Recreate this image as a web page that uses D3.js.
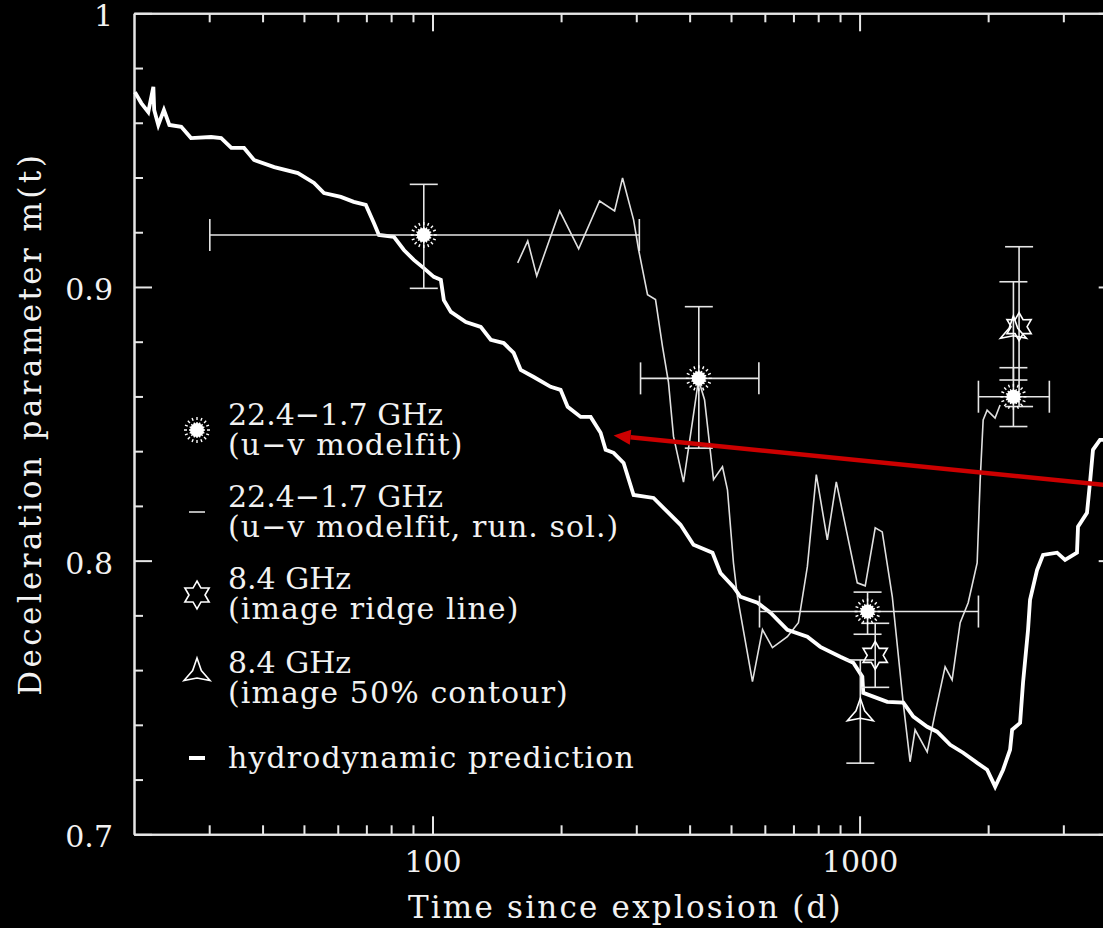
<!DOCTYPE html>
<html>
<head>
<meta charset="utf-8">
<script src="https://cdn.jsdelivr.net/npm/d3@7"></script>
<style>
body { margin: 0; background: #000; }
svg { display: block; }
text { font-family: "DejaVu Serif", serif; fill: #f2f2f2; }
</style>
</head>
<body>
<div id="chart"></div>
<script>
// hydrodynamic prediction (thick line)
var hydroT = [20.1, 20.8, 21.6, 22.2, 22.3, 22.8, 23.5, 24.2, 25.8, 27.2, 30.3, 32.0, 33.8, 36.2, 38.2, 42.6, 48.4, 52.8, 55.7, 61.0,
    65.4, 69.8, 72.9, 74.9, 81.2, 85.7, 90.4, 95.4, 100.7, 104.6, 106.3, 110.4, 119.7, 129.7, 136.9, 146.8, 154.9, 160.9, 172.6, 189.1,
    199.5, 207.2, 222.3, 234.6, 247.5, 254.3, 265.5, 280.2, 295.7, 329.3, 355.1, 380.8, 408.4, 452.5, 472.3, 506.6, 526.0, 576.6, 618.4, 677.5,
    754.6, 809.2, 901.3, 966.7, 1015, 1020, 1077, 1161, 1266, 1336, 1440, 1519, 1630, 1748, 1885, 1989, 2077, 2168, 2251, 2276,
    2376, 2414, 2480, 2507, 2604, 2689, 2900, 3028, 3229, 3247, 3408, 3463, 3520, 3655, 3900];
var hydroM = [0.9712, 0.9672, 0.9639, 0.9731, 0.9647, 0.9592, 0.9647, 0.9592, 0.9585, 0.9544, 0.9548, 0.9544, 0.9508, 0.9508, 0.9464, 0.9438, 0.9416, 0.9380, 0.9343, 0.9329,
    0.9311, 0.9300, 0.9234, 0.9190, 0.9183, 0.9135, 0.9099, 0.9069, 0.9037, 0.9026, 0.8952, 0.8909, 0.8872, 0.8854, 0.8807, 0.8795, 0.8759, 0.8697, 0.8671, 0.8635,
    0.8624, 0.8562, 0.8525, 0.8525, 0.8467, 0.8405, 0.8394, 0.8357, 0.8240, 0.8229, 0.8178, 0.8131, 0.8058, 0.8029, 0.7955, 0.7904, 0.7868, 0.7846, 0.7810, 0.7747,
    0.7722, 0.7685, 0.7649, 0.7627, 0.7576, 0.7517, 0.7503, 0.7484, 0.7481, 0.7430, 0.7393, 0.7375, 0.7327, 0.7298, 0.7261, 0.7236, 0.7174, 0.7236, 0.7309, 0.7382,
    0.7407, 0.7554, 0.7747, 0.7857, 0.7966, 0.8021, 0.8029, 0.8003, 0.8029, 0.8124, 0.8175, 0.8284, 0.8405, 0.8441, 0.8441];

// 22.4-1.7 GHz running solution (thin line)
var runT = [158.3, 167.1, 175.4, 198.5, 219.9, 246.1, 266.9, 278.6, 295.7, 303.8, 318.8, 332.8, 345.6, 356.9, 366.7, 387.0, 406.8, 419.6, 433.5, 455.0,
    477.5, 490.5, 506.6, 517.6, 561.3, 592.4, 625.1, 677.5, 719.0, 754.6, 791.9, 840.3, 882.0, 987.7, 1031, 1088, 1130, 1193, 1265, 1313,
    1349, 1440, 1503, 1586, 1647, 1720, 1796, 1885, 1916, 1947, 1989, 2076, 2133];
var runM = [0.9088, 0.9168, 0.9040, 0.9278, 0.9139, 0.9314, 0.9278, 0.9398, 0.9245, 0.9136, 0.8972, 0.8954, 0.8782, 0.8651, 0.8454, 0.8287, 0.8515, 0.8661, 0.8588, 0.8296,
    0.8343, 0.8259, 0.7992, 0.7868, 0.7558, 0.7748, 0.7682, 0.7722, 0.7773, 0.7978, 0.8314, 0.8076, 0.8288, 0.7919, 0.7908, 0.8120, 0.8105, 0.7868, 0.7481, 0.7265,
    0.7382, 0.7301, 0.7444, 0.7612, 0.7564, 0.7773, 0.7846, 0.7992, 0.8295, 0.8514, 0.8550, 0.8521, 0.8569];

// 22.4-1.7 GHz u-v modelfit points
var fitT = [95.4, 420.3, 1044, 2292];
var fitM = [0.919, 0.8666, 0.7814, 0.8599];
var fitTLo = [30.1, 307, 583, 1898];
var fitTHi = [305, 581, 1898, 2782];
var fitMLo = [0.8995, 0.8411, 0.7731, 0.8490];
var fitMHi = [0.9375, 0.8928, 0.7885, 0.8705];

// 8.4 GHz image ridge line
var ridgeT = [1088, 2363];
var ridgeM = [0.7654, 0.8855];
var ridgeMLo = [0.7537, 0.8563];
var ridgeMHi = [0.7771, 0.9147];

// 8.4 GHz image 50% contour
var contT = [1004, 2292];
var contM = [0.7442, 0.8840];
var contMLo = [0.7260, 0.8660];
var contMHi = [0.7637, 0.9019];

// red annotation arrow (tip first)
var arrowT = [265.5, 4000];
var arrowM = [0.8457, 0.8272];

var xMajor = [100, 1000];
var xMinor = [30, 40, 50, 60, 70, 80, 90, 200, 300, 400, 500, 600, 700, 800, 900, 2000, 3000];
var yMajor = [0.7, 0.8, 0.9, 1];
var yMinor = [0.72, 0.74, 0.76, 0.78, 0.82, 0.84, 0.86, 0.88, 0.92, 0.94, 0.96, 0.98];

var legendLabels = [
    ['22.4\u22121.7 GHz', '(u\u2212v modelfit)'],
    ['22.4\u22121.7 GHz', '(u\u2212v modelfit, run. sol.)'],
    ['8.4 GHz', '(image ridge line)'],
    ['8.4 GHz', '(image 50% contour)'],
    ['hydrodynamic prediction']
];
var legendSymbols = ['burst', 'thin', 'star', 'tri', 'thick'];

var width = 1103, height = 928;
var plotLeft = 134, plotTop = 13.3, plotBottom = 834.3, plotRight = 1116.7;

var svg = d3.select('#chart').append('svg')
    .attr('width', width)
    .attr('height', height);

svg.append('rect').attr('width', width).attr('height', height).attr('fill', '#000');

var x = d3.scaleLog().domain([20, 4000]).range([plotLeft, plotRight]);
var y = d3.scaleLinear().domain([0.7, 1]).range([plotBottom, plotTop]);

var axisColor = '#e6e6e6';

function styleAxis(g) {
    g.select('.domain').attr('stroke', axisColor).attr('stroke-width', 2);
    g.selectAll('.tick line').attr('stroke', axisColor).attr('stroke-width', 2);
    g.selectAll('.tick text').attr('font-size', 30).attr('fill', '#f2f2f2')
        .attr('font-family', '"DejaVu Serif", serif');
}

// bottom axis
svg.append('g').attr('transform', 'translate(0,' + plotBottom + ')')
    .call(d3.axisBottom(x).tickValues(xMinor).tickSize(-9).tickSizeOuter(0).tickFormat(''))
    .call(styleAxis);
svg.append('g').attr('transform', 'translate(0,' + plotBottom + ')')
    .call(d3.axisBottom(x).tickValues(xMajor).tickSize(-18).tickSizeOuter(0).tickPadding(16).tickFormat(d3.format('d')))
    .call(styleAxis);
// top axis
svg.append('g').attr('transform', 'translate(0,' + plotTop + ')')
    .call(d3.axisTop(x).tickValues(xMinor).tickSize(-9).tickSizeOuter(0).tickFormat(''))
    .call(styleAxis);
svg.append('g').attr('transform', 'translate(0,' + plotTop + ')')
    .call(d3.axisTop(x).tickValues(xMajor).tickSize(-18).tickSizeOuter(0).tickFormat(''))
    .call(styleAxis);
// left axis
svg.append('g').attr('transform', 'translate(' + plotLeft + ',0)')
    .call(d3.axisLeft(y).tickValues(yMinor).tickSize(-9).tickSizeOuter(0).tickFormat(''))
    .call(styleAxis);
svg.append('g').attr('transform', 'translate(' + plotLeft + ',0)')
    .call(d3.axisLeft(y).tickValues(yMajor).tickSize(-18).tickSizeOuter(0).tickPadding(21)
        .tickFormat(function(d) { return d === 1 ? '1' : d.toFixed(1); }))
    .call(styleAxis)
    .selectAll('.tick text').attr('dy', '0.42em');
// right axis
svg.append('g').attr('transform', 'translate(' + plotRight + ',0)')
    .call(d3.axisRight(y).tickValues(yMinor).tickSize(-9).tickSizeOuter(0).tickFormat(''))
    .call(styleAxis);
svg.append('g').attr('transform', 'translate(' + plotRight + ',0)')
    .call(d3.axisRight(y).tickValues(yMajor).tickSize(-18).tickSizeOuter(0).tickFormat(''))
    .call(styleAxis);

// axis titles
svg.append('text')
    .attr('x', (plotLeft + plotRight) / 2)
    .attr('y', 918)
    .attr('text-anchor', 'middle')
    .attr('font-size', 31)
    .attr('letter-spacing', 2.2)
    .text('Time since explosion (d)');

svg.append('text')
    .attr('transform', 'translate(41,' + ((plotTop + plotBottom) / 2) + ') rotate(-90)')
    .attr('text-anchor', 'middle')
    .attr('font-size', 31)
    .attr('letter-spacing', 3.4)
    .text('Deceleration parameter m(t)');

var plot = svg.append('g');

var line = d3.line()
    .x(function(d) { return x(d[0]); })
    .y(function(d) { return y(d[1]); });

// running solution
plot.append('path')
    .datum(d3.zip(runT, runM))
    .attr('fill', 'none')
    .attr('stroke', '#e0e0e0')
    .attr('stroke-width', 1.6)
    .attr('d', line);

// hydrodynamic prediction
plot.append('path')
    .datum(d3.zip(hydroT, hydroM))
    .attr('fill', 'none')
    .attr('stroke', '#fff')
    .attr('stroke-width', 3.8)
    .attr('d', line);

var cap = 14;

function vBar(g, t, lo, hi) {
    var cx = x(t);
    g.append('line').attr('x1', cx).attr('x2', cx).attr('y1', y(lo)).attr('y2', y(hi));
    g.append('line').attr('x1', cx - cap).attr('x2', cx + cap).attr('y1', y(lo)).attr('y2', y(lo));
    g.append('line').attr('x1', cx - cap).attr('x2', cx + cap).attr('y1', y(hi)).attr('y2', y(hi));
}

function hBar(g, m, lo, hi) {
    var cy = y(m);
    g.append('line').attr('x1', x(lo)).attr('x2', x(hi)).attr('y1', cy).attr('y2', cy);
    g.append('line').attr('x1', x(lo)).attr('x2', x(lo)).attr('y1', cy - cap - 2).attr('y2', cy + cap + 2);
    g.append('line').attr('x1', x(hi)).attr('x2', x(hi)).attr('y1', cy - cap - 2).attr('y2', cy + cap + 2);
}

function starPath(n, R, r) {
    var pts = [];
    for (var i = 0; i < 2 * n; i++) {
        var a = -Math.PI / 2 + i * Math.PI / n;
        var rr = i % 2 === 0 ? R : r;
        pts.push([rr * Math.cos(a), rr * Math.sin(a)]);
    }
    return 'M' + pts.map(function(p) { return p[0].toFixed(2) + ',' + p[1].toFixed(2); }).join('L') + 'Z';
}

function drawSymbol(g, type, cx, cy) {
    var s = g.append('g').attr('transform', 'translate(' + cx + ',' + cy + ')');
    if (type === 'burst') {
        d3.range(16).forEach(function(i) {
            var a = i * Math.PI / 8;
            s.append('line')
                .attr('x1', 5 * Math.cos(a)).attr('y1', 5 * Math.sin(a))
                .attr('x2', 14 * Math.cos(a)).attr('y2', 14 * Math.sin(a))
                .attr('stroke', '#fff').attr('stroke-width', 1.4)
                .attr('stroke-dasharray', '3,2');
        });
        s.append('circle').attr('r', 7).attr('fill', '#fff');
    } else if (type === 'star') {
        s.append('path').attr('d', starPath(6, 14, 8))
            .attr('fill', 'none').attr('stroke', '#fff').attr('stroke-width', 1.6);
    } else if (type === 'tri') {
        s.append('path').attr('d', starPath(3, 15, 5))
            .attr('fill', 'none').attr('stroke', '#fff').attr('stroke-width', 1.6);
    } else if (type === 'thin') {
        s.append('line').attr('x1', -8).attr('x2', 8)
            .attr('stroke', '#e0e0e0').attr('stroke-width', 1.6);
    } else if (type === 'thick') {
        s.append('line').attr('x1', -8).attr('x2', 8)
            .attr('stroke', '#fff').attr('stroke-width', 4);
    }
}

var bars = plot.append('g').attr('stroke', '#e6e6e6').attr('stroke-width', 1.6);

fitT.forEach(function(t, i) {
    vBar(bars, t, fitMLo[i], fitMHi[i]);
    hBar(bars, fitM[i], fitTLo[i], fitTHi[i]);
});
ridgeT.forEach(function(t, i) {
    vBar(bars, t, ridgeMLo[i], ridgeMHi[i]);
});
contT.forEach(function(t, i) {
    vBar(bars, t, contMLo[i], contMHi[i]);
});

var marks = plot.append('g');
contT.forEach(function(t, i) { drawSymbol(marks, 'tri', x(t), y(contM[i])); });
ridgeT.forEach(function(t, i) { drawSymbol(marks, 'star', x(t), y(ridgeM[i])); });
fitT.forEach(function(t, i) { drawSymbol(marks, 'burst', x(t), y(fitM[i])); });

// legend
var legendBase = [425, 507, 589, 673, 768];
var symbolOffset = [5, 5, 6, 0, -10];
var legend = svg.append('g');
legendLabels.forEach(function(lines, i) {
    drawSymbol(legend, legendSymbols[i], 197, legendBase[i] + symbolOffset[i]);
    lines.forEach(function(txt, j) {
        legend.append('text')
            .attr('x', 228)
            .attr('y', legendBase[i] + j * 29.5)
            .attr('font-size', 30)
            .attr('letter-spacing', j === 0 && i < 4 ? 0 : 1.1)
            .text(txt);
    });
});

// red arrow annotation
var ax0 = x(arrowT[0]), ay0 = y(arrowM[0]);
var ax1 = x(arrowT[1]), ay1 = y(arrowM[1]);
var ang = Math.atan2(ay1 - ay0, ax1 - ax0);
var headLen = 17, headW = 7.5;
var bx = ax0 + headLen * Math.cos(ang), by = ay0 + headLen * Math.sin(ang);
svg.append('line')
    .attr('x1', bx).attr('y1', by).attr('x2', ax1).attr('y2', ay1)
    .attr('stroke', '#cc0000').attr('stroke-width', 4.5);
svg.append('path')
    .attr('d', 'M' + ax0 + ',' + ay0 +
        'L' + (bx - headW * Math.sin(ang)) + ',' + (by + headW * Math.cos(ang)) +
        'L' + (bx + headW * Math.sin(ang)) + ',' + (by - headW * Math.cos(ang)) + 'Z')
    .attr('fill', '#cc0000');
</script>
</body>
</html>
